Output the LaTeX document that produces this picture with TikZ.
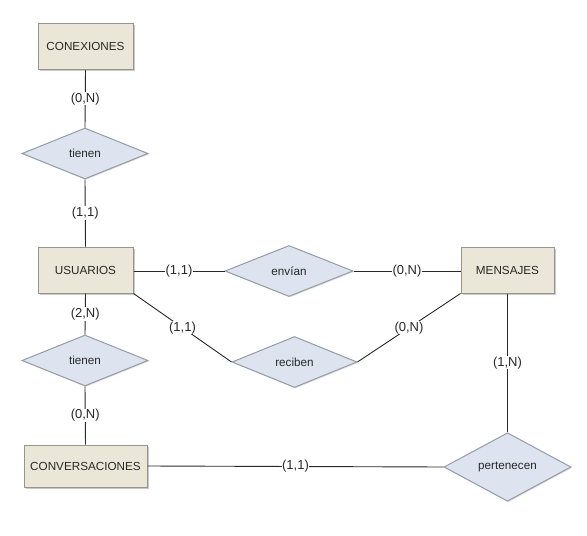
\documentclass[tikz,border=0pt]{standalone}
\usepackage{fontspec}
\setmainfont{Liberation Sans}
\usetikzlibrary{shapes.geometric,shadows}
\definecolor{entfill}{RGB}{234,231,217}
\definecolor{entdraw}{RGB}{150,150,140}
\definecolor{relfill}{RGB}{221,228,240}
\definecolor{reldraw}{RGB}{150,155,168}
\definecolor{linecol}{RGB}{40,40,40}
\definecolor{txtcol}{RGB}{40,40,40}
\tikzset{
  entity/.style={rectangle, draw=entdraw, fill=entfill, line width=1pt,
    minimum width=95pt, minimum height=46pt, inner sep=0pt,
    drop shadow={shadow xshift=1.5pt, shadow yshift=-1.5pt, fill=black!35, opacity=0.6}},
  relation/.style={diamond, draw=reldraw, fill=relfill, line width=1pt,
    minimum width=126pt, minimum height=51pt, inner sep=0pt,
    drop shadow={shadow xshift=1pt, shadow yshift=-1pt, fill=black!25, opacity=0.5}},
  conn/.style={draw=linecol, line width=0.9pt},
  card/.style={fill=white, inner sep=0.5pt, text=txtcol, font=\fontsize{13}{15}\selectfont},
  every node/.append style={text=txtcol, font=\fontsize{11.7}{13}\selectfont}
}
\begin{document}
\begin{tikzpicture}[x=1pt,y=-1pt]
\useasboundingbox (0,0) rectangle (587,536);
\fill[white] (0,0) rectangle (587,536);
% entities
\node[entity] (conex) at (85.5,46.5) {CONEXIONES};
\node[entity] (usu) at (85.5,270) {USUARIOS};
\node[entity, minimum width=93pt] (men) at (507.5,270) {MENSAJES};
\node[entity, minimum width=123pt, minimum height=42pt] (conv) at (85.5,466) {CONVERSACIONES};
% relations
\node[relation] (tien1) at (85,153.5) {tienen};
\node[relation, minimum width=128pt] (env) at (289,271) {envían};
\node[relation, minimum width=125pt] (rec) at (294.5,362) {reciben};
\node[relation] (tien2) at (85,360.5) {tienen};
\node[relation, minimum width=127pt, minimum height=50pt] (per) at (507.5,467) {pertenecen};
% connectors
\draw[conn] (conex.south) -- node[card] {(0,N)} (tien1.north);
\draw[conn] (tien1.south) -- node[card] {(1,1)} (usu.north);
\draw[conn] (usu.east |- env.west) -- node[card] {(1,1)} (env.west);
\draw[conn] (env.east) -- node[card] {(0,N)} (men.west |- env.east);
\draw[conn] (usu.south east) -- node[card] {(1,1)} (rec.west);
\draw[conn] (rec.east) -- node[card] {(0,N)} (men.south west);
\draw[conn] (usu.south) -- node[card] {(2,N)} (tien2.north);
\draw[conn] (tien2.south) -- node[card] {(0,N)} (conv.north);
\draw[conn] (conv.east) -- node[card] {(1,1)} (per.west);
\draw[conn] (men.south) -- node[card] {(1,N)} (per.north);
\end{tikzpicture}
\end{document}
